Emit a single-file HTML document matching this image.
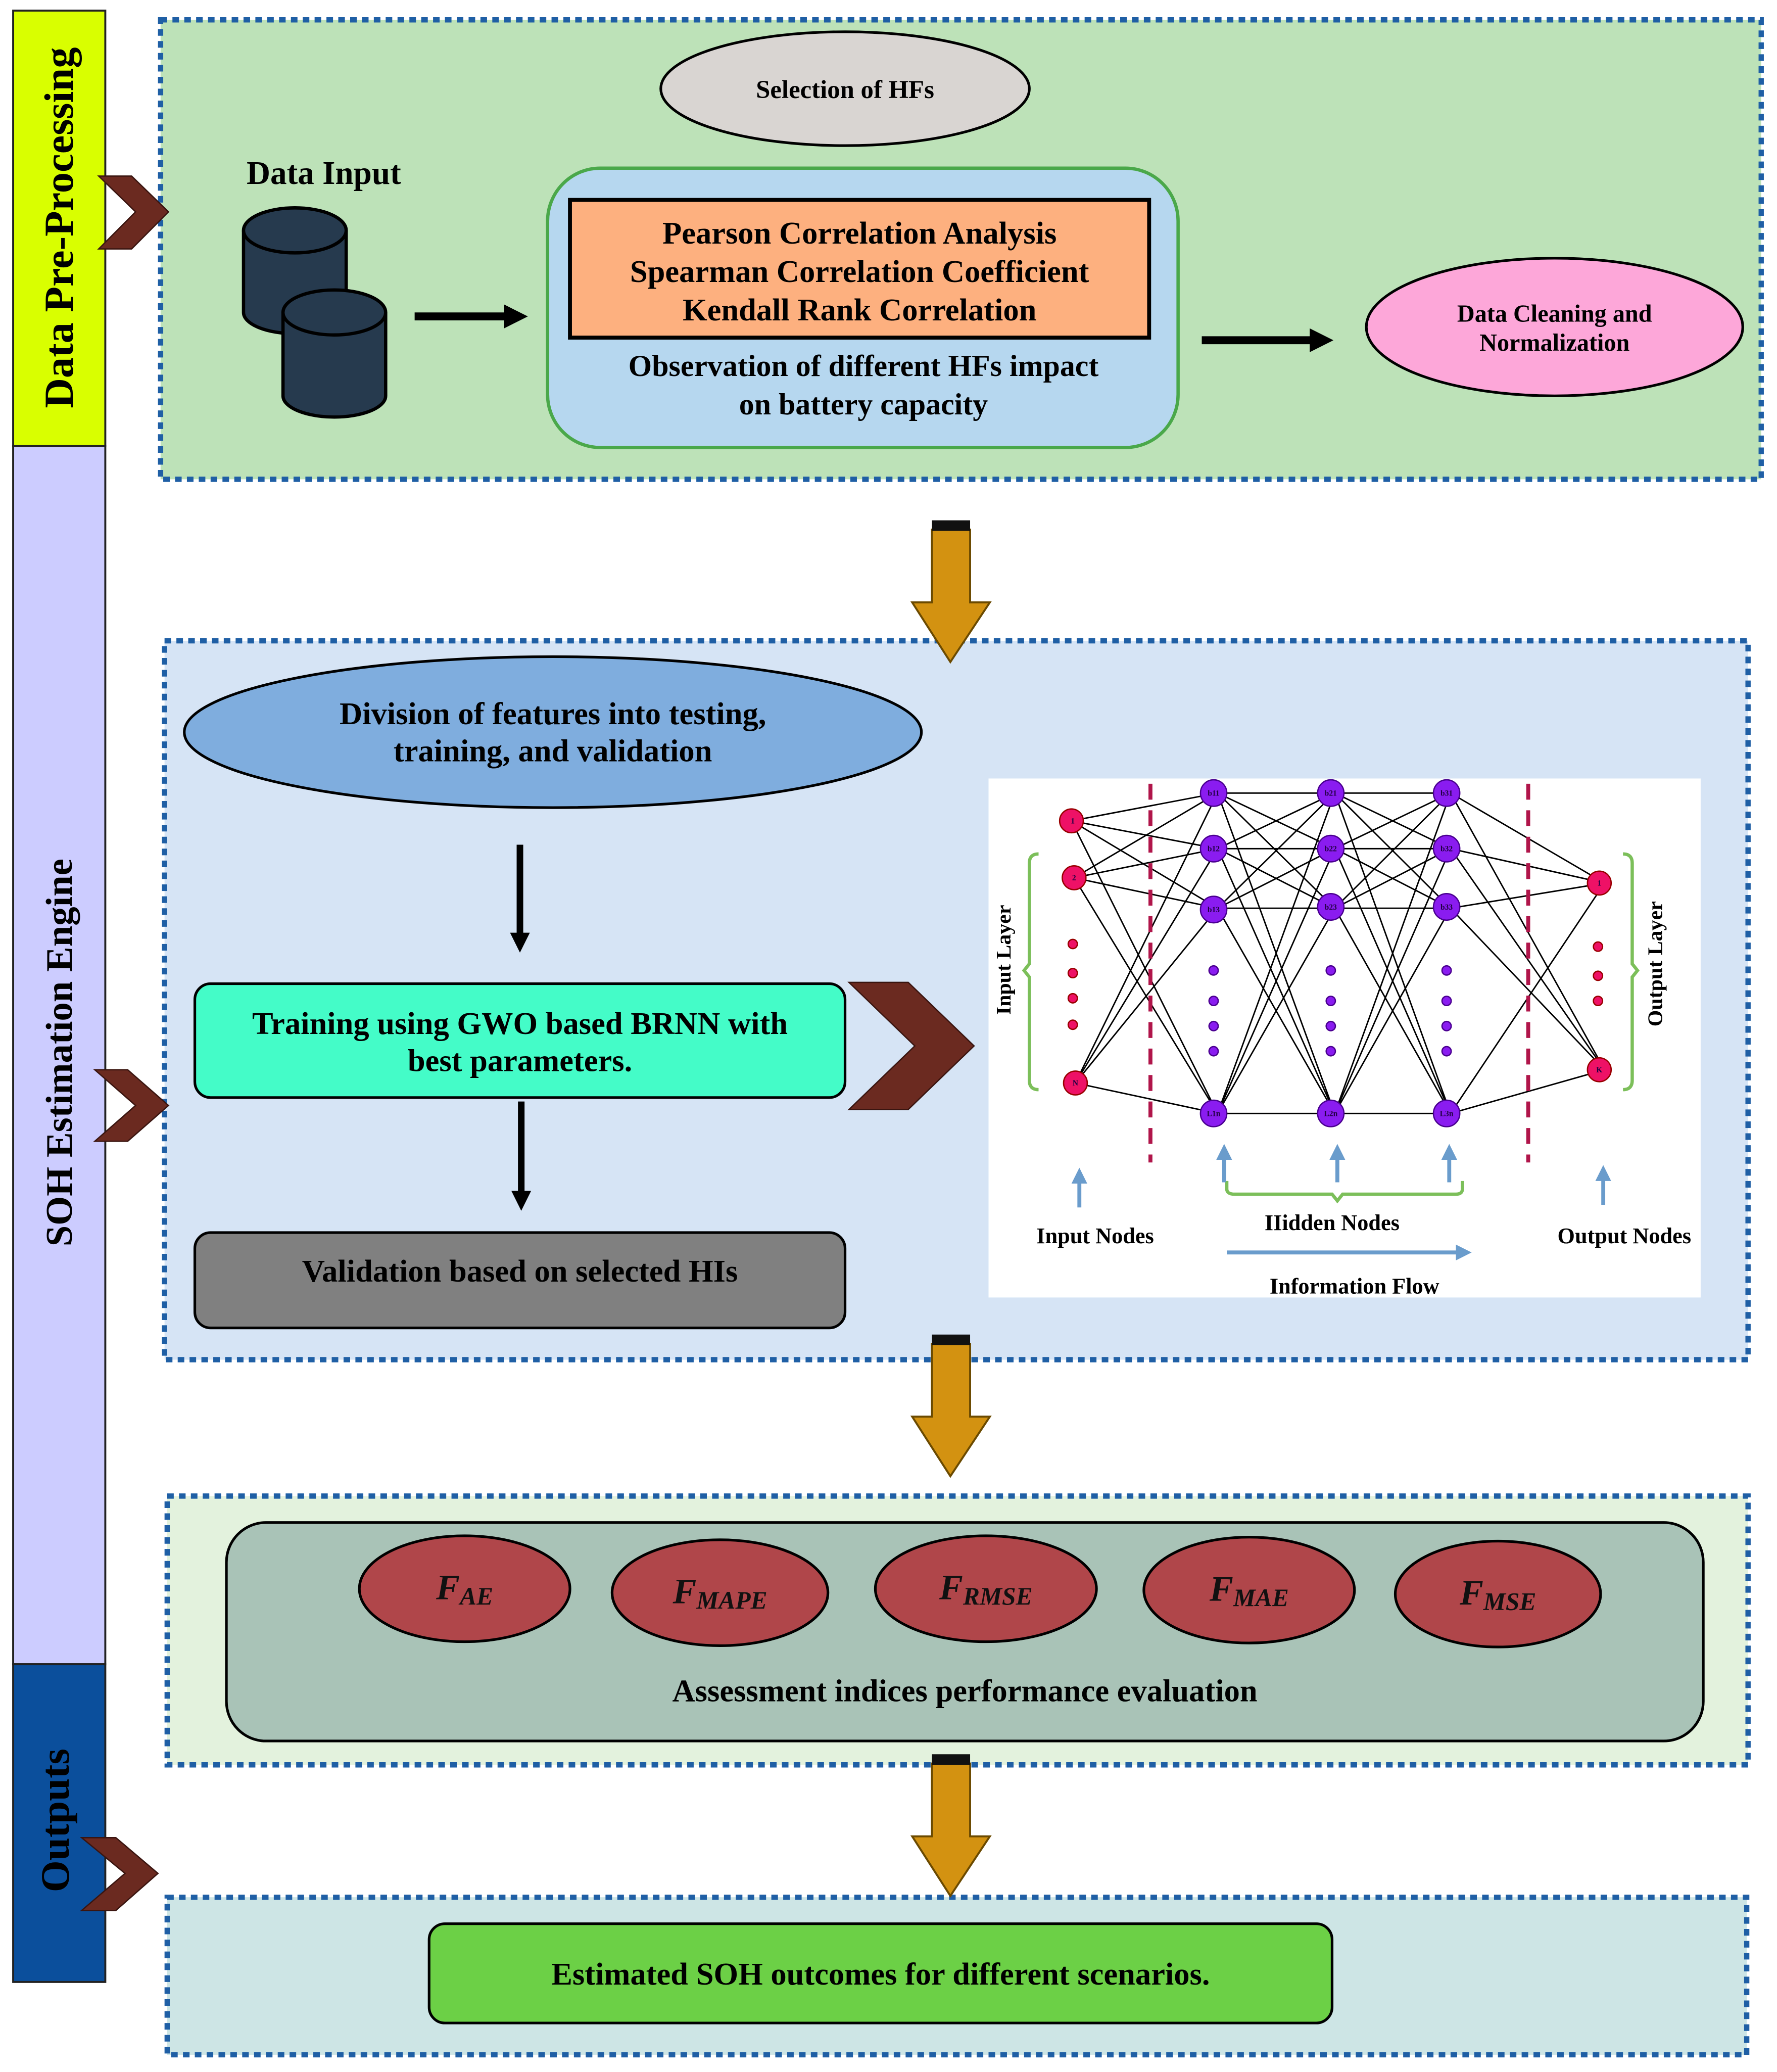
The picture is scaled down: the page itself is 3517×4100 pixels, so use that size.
<!DOCTYPE html>
<html><head><meta charset="utf-8"><style>html,body{margin:0;padding:0;background:#fff}svg{display:block}</style></head>
<body>
<svg width="3517" height="4100" viewBox="0 0 1350 1565" preserveAspectRatio="none" xmlns="http://www.w3.org/2000/svg" font-family="Liberation Serif, serif" font-weight="bold">
<defs>
<marker id="bk" viewBox="0 0 10 10" refX="5" refY="5" markerWidth="3" markerHeight="3" orient="auto"><path d="M0,0L10,5L0,10z" fill="#000"/></marker>
<marker id="bl" viewBox="0 0 10 10" refX="5" refY="5" markerWidth="4" markerHeight="4" orient="auto"><path d="M0,0L10,5L0,10z" fill="#6a9ccc"/></marker>
</defs>
<rect width="1350" height="1565" fill="#fff"/>
<!-- left bar -->
<rect x="10" y="8" width="70" height="329" fill="#d9ff00" stroke="#222" stroke-width="1.5"/>
<rect x="10" y="337" width="70" height="920" fill="#ccccff" stroke="#222" stroke-width="1.5"/>
<rect x="10" y="1257" width="70" height="240" fill="#0b4f9c" stroke="#222" stroke-width="1.5"/>
<text transform="rotate(-90 48 172)" x="48" y="172" font-size="31.5" text-anchor="middle" dominant-baseline="middle">Data Pre-Processing</text>
<text transform="rotate(-90 48 795)" x="48" y="795" font-size="28.5" text-anchor="middle" dominant-baseline="middle">SOH Estimation Engine</text>
<text transform="rotate(-90 45 1375)" x="45" y="1375" font-size="31" text-anchor="middle" dominant-baseline="middle">Outputs</text>
<!-- panel 1 -->
<rect x="122" y="15" width="1216" height="347" fill="#bde2b8" stroke="#1f5fa5" stroke-width="4" stroke-dasharray="5,4"/>
<ellipse cx="642" cy="67" rx="140" ry="43" fill="#d9d5d2" stroke="#000" stroke-width="2"/>
<text x="642" y="74" font-size="19.5" text-anchor="middle">Selection of HFs</text>
<text x="246" y="139" font-size="25" text-anchor="middle">Data Input</text>
<g fill="#263a4e" stroke="#000" stroke-width="2.5">
<path d="M185,174 L185,236 A39,16 0 0 0 263,236 L263,174"/>
<ellipse cx="224" cy="174" rx="39" ry="17"/>
<path d="M215,236 L215,299 A39,16 0 0 0 293,299 L293,236"/>
<ellipse cx="254" cy="236" rx="39" ry="17"/>
</g>
<line x1="315" y1="239" x2="392" y2="239" stroke="#000" stroke-width="6" marker-end="url(#bk)"/>
<rect x="416" y="127" width="479" height="211" rx="40" fill="#b6d7ef" stroke="#4aa84a" stroke-width="2.5"/>
<rect x="433" y="151" width="440" height="104" fill="#fdb07f" stroke="#000" stroke-width="3"/>
<text font-size="24" text-anchor="middle"><tspan x="653" y="184">Pearson Correlation Analysis</tspan><tspan x="653" y="213">Spearman Correlation Coefficient</tspan><tspan x="653" y="242">Kendall Rank Correlation</tspan></text>
<text font-size="23" text-anchor="middle"><tspan x="656" y="284">Observation of different HFs impact</tspan><tspan x="656" y="313">on battery capacity</tspan></text>
<line x1="913" y1="257" x2="1004" y2="257" stroke="#000" stroke-width="6" marker-end="url(#bk)"/>
<ellipse cx="1181" cy="247" rx="143" ry="52" fill="#fda7d9" stroke="#000" stroke-width="2"/>
<text font-size="18.5" text-anchor="middle"><tspan x="1181" y="243">Data Cleaning and</tspan><tspan x="1181" y="265">Normalization</tspan></text>
<!-- panel 2 -->
<rect x="125" y="484" width="1203" height="543" fill="#d6e4f5" stroke="#1f5fa5" stroke-width="4" stroke-dasharray="5,4"/>
<ellipse cx="420" cy="553" rx="280" ry="57" fill="#7fadde" stroke="#000" stroke-width="2"/>
<text font-size="24" text-anchor="middle"><tspan x="420" y="547">Division of features into testing,</tspan><tspan x="420" y="575">training, and validation</tspan></text>
<line x1="395" y1="638" x2="395" y2="712" stroke="#000" stroke-width="5" marker-end="url(#bk)"/>
<rect x="148" y="743" width="494" height="86" rx="12" fill="#44fcc8" stroke="#000" stroke-width="2"/>
<text font-size="24" text-anchor="middle"><tspan x="395" y="781">Training using GWO based BRNN with</tspan><tspan x="395" y="809">best parameters.</tspan></text>
<line x1="396" y1="832" x2="396" y2="907" stroke="#000" stroke-width="5" marker-end="url(#bk)"/>
<rect x="148" y="931" width="494" height="72" rx="12" fill="#808080" stroke="#000" stroke-width="2"/>
<text x="395" y="968" font-size="24" text-anchor="middle">Validation based on selected HIs</text>
<!-- NN -->
<rect x="751" y="588" width="541" height="392" fill="#fff"/>
<g stroke="#000" stroke-width="1.1">
<path d="M814,620L925,599M814,620L925,641M814,620L925,686M814,620L925,841M816,663L925,599M816,663L925,641M816,663L925,686M816,663L925,841M817,818L925,599M817,818L925,641M817,818L925,686M817,818L925,841"/>
<path d="M925,599L1014,599M925,599L1014,641M925,599L1014,686M925,599L1014,841M925,641L1014,599M925,641L1014,641M925,641L1014,686M925,641L1014,841M925,686L1014,599M925,686L1014,641M925,686L1014,686M925,686L1014,841M925,841L1014,599M925,841L1014,641M925,841L1014,686M925,841L1014,841"/>
<path d="M1014,599L1102,599M1014,599L1102,641M1014,599L1102,686M1014,599L1102,841M1014,641L1102,599M1014,641L1102,641M1014,641L1102,686M1014,641L1102,841M1014,686L1102,599M1014,686L1102,641M1014,686L1102,686M1014,686L1102,841M1014,841L1102,599M1014,841L1102,641M1014,841L1102,686M1014,841L1102,841"/>
<path d="M1102,599L1219,667M1102,641L1219,667M1102,686L1219,667M1102,841L1219,667M1102,599L1219,808M1102,641L1219,808M1102,686L1219,808M1102,841L1219,808"/>
</g>
<g stroke="#b0154a" stroke-width="3" stroke-dasharray="12,8"><line x1="874" y1="592" x2="874" y2="878"/><line x1="1161" y1="592" x2="1161" y2="878"/></g>
<g fill="#ee1166" stroke="#900" stroke-width="1">
<circle cx="814" cy="620" r="9"/><circle cx="816" cy="663" r="9"/><circle cx="817" cy="818" r="9"/>
<circle cx="1215" cy="667" r="9"/><circle cx="1215" cy="808" r="9"/>
<circle cx="815" cy="713" r="3.5"/><circle cx="815" cy="735" r="3.5"/><circle cx="815" cy="754" r="3.5"/><circle cx="815" cy="774" r="3.5"/>
<circle cx="1214" cy="715" r="3.5"/><circle cx="1214" cy="737" r="3.5"/><circle cx="1214" cy="756" r="3.5"/>
</g>
<g fill="#8a1cf0" stroke="#4a0090" stroke-width="1">
<circle cx="922" cy="599" r="10"/><circle cx="922" cy="641" r="10"/><circle cx="922" cy="687" r="10"/><circle cx="922" cy="841" r="10"/>
<circle cx="1011" cy="599" r="10"/><circle cx="1011" cy="641" r="10"/><circle cx="1011" cy="685" r="10"/><circle cx="1011" cy="841" r="10"/>
<circle cx="1099" cy="599" r="10"/><circle cx="1099" cy="641" r="10"/><circle cx="1099" cy="685" r="10"/><circle cx="1099" cy="841" r="10"/>
<circle cx="922" cy="733" r="3.5"/><circle cx="922" cy="756" r="3.5"/><circle cx="922" cy="775" r="3.5"/><circle cx="922" cy="794" r="3.5"/>
<circle cx="1011" cy="733" r="3.5"/><circle cx="1011" cy="756" r="3.5"/><circle cx="1011" cy="775" r="3.5"/><circle cx="1011" cy="794" r="3.5"/>
<circle cx="1099" cy="733" r="3.5"/><circle cx="1099" cy="756" r="3.5"/><circle cx="1099" cy="775" r="3.5"/><circle cx="1099" cy="794" r="3.5"/>
</g>
<g font-size="6" text-anchor="middle" fill="#220044">
<text x="815" y="622">1</text><text x="816" y="665">2</text><text x="817" y="820">N</text><text x="1215" y="669">1</text><text x="1215" y="810">K</text>
<text x="922" y="601">b11</text><text x="922" y="643">b12</text><text x="922" y="689">b13</text><text x="922" y="843">L1n</text>
<text x="1011" y="601">b21</text><text x="1011" y="643">b22</text><text x="1011" y="687">b23</text><text x="1011" y="843">L2n</text>
<text x="1099" y="601">b31</text><text x="1099" y="643">b32</text><text x="1099" y="687">b33</text><text x="1099" y="843">L3n</text>
</g>
<g fill="none" stroke="#7cbf5a" stroke-width="2.5">
<path d="M789,645 Q782,645 782,652 L782,728 L778,733 L782,738 L782,816 Q782,823 789,823"/>
<path d="M1233,645 Q1240,645 1240,652 L1240,728 L1244,733 L1240,738 L1240,816 Q1240,823 1233,823"/>
<path d="M932,892 L932,898 Q932,902 938,902 L1012,902 L1016,907 L1020,902 L1106,902 Q1111,902 1111,898 L1111,892"/>
</g>
<text transform="rotate(-90 764 725)" x="764" y="725" font-size="16" text-anchor="middle" dominant-baseline="middle">Input Layer</text>
<text transform="rotate(-90 1259 728)" x="1259" y="728" font-size="16" text-anchor="middle" dominant-baseline="middle">Output Layer</text>
<g stroke="#6a9ccc" stroke-width="3">
<line x1="820" y1="912" x2="820" y2="888" marker-end="url(#bl)"/>
<line x1="930" y1="893" x2="930" y2="870" marker-end="url(#bl)"/>
<line x1="1016" y1="893" x2="1016" y2="870" marker-end="url(#bl)"/>
<line x1="1101" y1="893" x2="1101" y2="870" marker-end="url(#bl)"/>
<line x1="1218" y1="910" x2="1218" y2="886" marker-end="url(#bl)"/>
<line x1="932" y1="946" x2="1112" y2="946" marker-end="url(#bl)"/>
</g>
<g font-size="17" text-anchor="middle">
<text x="832" y="939">Input Nodes</text>
<text x="1012" y="929">IIidden Nodes</text>
<text x="1234" y="939">Output Nodes</text>
<text x="1029" y="977">Information Flow</text>
</g>
<!-- panel 3 -->
<rect x="127" y="1130" width="1201" height="203" fill="#e3f2dd" stroke="#1f5fa5" stroke-width="4" stroke-dasharray="5,4"/>
<rect x="172" y="1150" width="1122" height="165" rx="30" fill="#a9c3b7" stroke="#000" stroke-width="2"/>
<g fill="#b0464a" stroke="#000" stroke-width="2">
<ellipse cx="353" cy="1200" rx="80" ry="40"/><ellipse cx="547" cy="1203" rx="82" ry="40"/><ellipse cx="749" cy="1200" rx="84" ry="40"/><ellipse cx="949" cy="1201" rx="80" ry="40"/><ellipse cx="1138" cy="1204" rx="78" ry="40"/>
</g>
<g font-style="italic" font-size="27" text-anchor="middle" fill="#111">
<text x="353" y="1208">F<tspan font-size="19" dy="4">AE</tspan></text>
<text x="547" y="1211">F<tspan font-size="19" dy="4">MAPE</tspan></text>
<text x="749" y="1208">F<tspan font-size="19" dy="4">RMSE</tspan></text>
<text x="949" y="1209">F<tspan font-size="19" dy="4">MAE</tspan></text>
<text x="1138" y="1212">F<tspan font-size="19" dy="4">MSE</tspan></text>
</g>
<text x="733" y="1285" font-size="24" text-anchor="middle">Assessment indices performance evaluation</text>
<!-- panel 4 -->
<rect x="127" y="1433" width="1200" height="119" fill="#cde5e5" stroke="#1f5fa5" stroke-width="4" stroke-dasharray="5,4"/>
<rect x="326" y="1453" width="686" height="75" rx="12" fill="#6cd046" stroke="#000" stroke-width="2"/>
<text x="669" y="1499" font-size="24" text-anchor="middle">Estimated SOH outcomes for different scenarios.</text>
<!-- chevrons -->
<g fill="#6b2a20" stroke="#3a1510" stroke-width="1">
<polygon points="75,133 100,133 128,160 100,188 75,188 103,160"/>
<polygon points="72,808 97,808 128,835 97,862 72,862 103,835"/>
<polygon points="62,1388 88,1388 120,1415 88,1443 62,1443 95,1415"/>
<polygon points="645,742 690,742 740,790 690,838 645,838 695,790"/>
</g>
<!-- golden arrows (drawn last) -->
<g>
<polygon points="708,400 737,400 737,455 752,455 722,500 693,455 708,455" fill="#d39211" stroke="#6b4a00" stroke-width="1.5"/>
<rect x="708" y="393" width="29" height="8" fill="#111"/>
</g>
<g transform="translate(0,615)">
<polygon points="708,400 737,400 737,455 752,455 722,500 693,455 708,455" fill="#d39211" stroke="#6b4a00" stroke-width="1.5"/>
<rect x="708" y="393" width="29" height="8" fill="#111"/>
</g>
<g transform="translate(0,932)">
<polygon points="708,400 737,400 737,455 752,455 722,500 693,455 708,455" fill="#d39211" stroke="#6b4a00" stroke-width="1.5"/>
<rect x="708" y="393" width="29" height="8" fill="#111"/>
</g>
</svg>
</body></html>
